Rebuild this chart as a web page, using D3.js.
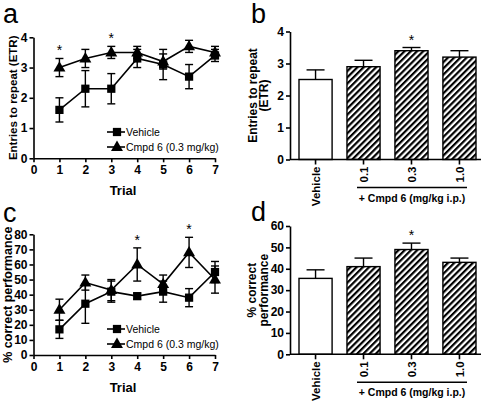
<!DOCTYPE html>
<html><head><meta charset="utf-8">
<script src="https://cdn.jsdelivr.net/npm/d3@7"></script>
<style>
body{margin:0;background:#fff;}
svg{display:block;font-family:"Liberation Sans",Arial,sans-serif;}
</style></head>
<body>
<svg id="c" width="486" height="404"></svg>
<script>
// ---- data ----
const trials = [1,2,3,4,5,6,7];
const trialTicks = [0,1,2,3,4,5,6,7];
const etrTicks = [0,1,2,3,4];
const pctTicks = [0,10,20,30,40,50,60,70,80];
const pctBarTicks = [0,10,20,30,40,50,60];
const etrVehicle = [1.6, 2.3, 2.3, 3.3, 3.1, 2.7, 3.4];
const etrVehicleErr = [0.4, 0.6, 0.5, 0.3, 0.5, 0.4, 0.2];
const etrCmpd = [3.0, 3.3, 3.5, 3.5, 3.2, 3.7, 3.5];
const etrCmpdErr = [0.3, 0.3, 0.2, 0.2, 0.25, 0.2, 0.2];
const etrSigTrials = [1, 3];
const pctVehicle = [17, 34, 42, 39, 42, 38, 55];
const pctVehicleErr = [6, 13, 7, 2, 7, 6, 7];
const pctCmpd = [30, 48, 43, 60, 47, 68, 50];
const pctCmpdErr = [7, 5, 7, 11, 6, 10, 9];
const pctSigTrials = [4, 6];
const doseLabels = ["Vehicle", "0.1", "0.3", "1.0"];
const etrBar = [2.5, 2.9, 3.4, 3.2];
const etrBarErr = [0.3, 0.2, 0.1, 0.2];
const pctBar = [35.5, 41, 49, 43];
const pctBarErr = [4, 4, 3, 2];
const barSig = ["0.3"];
const seriesNames = ["Vehicle", "Cmpd 6 (0.3 mg/kg)"];

const svg = d3.select("#c");
const defs = svg.append("defs");
const pat = defs.append("pattern").attr("id","hatch").attr("patternUnits","userSpaceOnUse")
  .attr("width",4.4).attr("height",10).attr("patternTransform","rotate(45)");
pat.append("rect").attr("width",4.4).attr("height",10).attr("fill","#fff");
pat.append("line").attr("x1",1.1).attr("x2",1.1).attr("y1",0).attr("y2",10).attr("stroke","#000").attr("stroke-width",2.2);

const FONT = "Liberation Sans, Arial, sans-serif";

function panelLetter(t, x, y){
  svg.append("text").attr("x",x).attr("y",y).attr("font-size",27).attr("font-family",FONT).text(t);
}

function styleAxis(g){
  g.selectAll("path,line").attr("stroke","#000").attr("stroke-width",1.6);
  g.selectAll("text").attr("font-size",12).attr("font-weight","bold").attr("font-family",FONT).attr("fill","#000");
}

function linePanel(o){
  const x = d3.scaleLinear().domain([0,7]).range([33.5,215]);
  const y = d3.scaleLinear().domain(o.domain).range(o.yRange);
  const gx = svg.append("g").attr("transform",`translate(0,${o.yRange[0]})`)
    .call(d3.axisBottom(x).tickValues(trialTicks).tickFormat(d3.format("d")).tickSize(4).tickSizeOuter(0).tickPadding(3));
  styleAxis(gx);
  const gy = svg.append("g").attr("transform",`translate(33.5,0)`)
    .call(d3.axisLeft(y).tickValues(o.yTicks).tickFormat(d3.format("d")).tickSize(4).tickSizeOuter(0).tickPadding(2));
  styleAxis(gy);
  // labels
  svg.append("text").attr("x",123).attr("y",o.yRange[0]+37).attr("text-anchor","middle")
    .attr("font-size",13).attr("font-weight","bold").attr("font-family",FONT).text("Trial");
  svg.append("text").attr("transform",`translate(${o.ylabX},${(o.yRange[0]+o.yRange[1])/2}) rotate(-90)`)
    .attr("text-anchor","middle").attr("font-size",o.ylabSize).attr("font-weight","bold").attr("font-family",FONT).text(o.ylab);

  const series = [
    {v:o.cmpd, e:o.cmpdErr, shape:d3.symbolTriangle, size:62},
    {v:o.veh, e:o.vehErr, shape:d3.symbolSquare, size:68}
  ];
  const line = d3.line().x((d,i)=>x(trials[i])).y(d=>y(d));
  series.forEach(s=>{
    svg.append("path").attr("d",line(s.v)).attr("fill","none").attr("stroke","#000").attr("stroke-width",1.6);
  });
  series.forEach(s=>{
    s.v.forEach((v,i)=>{
      const cx = x(trials[i]);
      const g = svg.append("g").attr("stroke","#000").attr("stroke-width",1.4);
      g.append("line").attr("x1",cx).attr("x2",cx).attr("y1",y(v-s.e[i])).attr("y2",y(v+s.e[i]));
      g.append("line").attr("x1",cx-4).attr("x2",cx+4).attr("y1",y(v-s.e[i])).attr("y2",y(v-s.e[i]));
      g.append("line").attr("x1",cx-4).attr("x2",cx+4).attr("y1",y(v+s.e[i])).attr("y2",y(v+s.e[i]));
    });
  });
  series.forEach(s=>{
    s.v.forEach((v,i)=>{
      const dy = s.shape===d3.symbolTriangle ? 0.5 : 0;
      svg.append("path").attr("d",d3.symbol().type(s.shape).size(s.size)())
        .attr("transform",`translate(${x(trials[i])},${y(v)+dy})`).attr("fill","#000");
    });
  });
  o.sig.forEach(t=>{
    const i = trials.indexOf(t);
    svg.append("text").attr("x",x(t)).attr("y",y(o.cmpd[i]+o.cmpdErr[i])-3).attr("text-anchor","middle")
      .attr("font-size",14).attr("font-family",FONT).text("*");
  });
  // legend
  const lx = 107, ly = o.legendY;
  [ {shape:d3.symbolSquare,size:68,name:seriesNames[0]}, {shape:d3.symbolTriangle,size:62,name:seriesNames[1]} ].forEach((l,k)=>{
    const yy = ly + k*15;
    svg.append("line").attr("x1",lx).attr("x2",lx+18).attr("y1",yy).attr("y2",yy).attr("stroke","#000").attr("stroke-width",1.6);
    svg.append("path").attr("d",d3.symbol().type(l.shape).size(l.size)()).attr("transform",`translate(${lx+10},${yy+(k?0.5:0)})`);
    svg.append("text").attr("x",lx+19).attr("y",yy+4).attr("font-size",10.5).attr("font-family",FONT).text(l.name);
  });
}

function barPanel(o){
  const x = d3.scaleBand().domain(doseLabels).range([299,476]).paddingInner(0.31).paddingOuter(0);
  const y = d3.scaleLinear().domain(o.domain).range(o.yRange);
  const gy = svg.append("g").attr("transform",`translate(290,0)`)
    .call(d3.axisLeft(y).tickValues(o.yTicks).tickFormat(d3.format("d")).tickSize(4).tickSizeOuter(0).tickPadding(2));
  styleAxis(gy);
  // bars
  doseLabels.forEach((d,i)=>{
    const v = o.vals[i], e = o.errs[i];
    const cx = x(d)+x.bandwidth()/2;
    svg.append("line").attr("x1",cx).attr("x2",cx).attr("y1",y(v)).attr("y2",y(v+e)).attr("stroke","#000").attr("stroke-width",1.4);
    svg.append("line").attr("x1",cx-9).attr("x2",cx+9).attr("y1",y(v+e)).attr("y2",y(v+e)).attr("stroke","#000").attr("stroke-width",1.4);
    svg.append("rect").attr("x",x(d)).attr("width",x.bandwidth()).attr("y",y(v)).attr("height",y(o.domain[0])-y(v))
      .attr("fill", i===0 ? "#fff" : "url(#hatch)").attr("stroke","#000").attr("stroke-width",1.4);
    if (barSig.includes(d)) {
      svg.append("text").attr("x",cx).attr("y",y(v+e)-3).attr("text-anchor","middle")
        .attr("font-size",14).attr("font-family",FONT).text("*");
    }
  });
  // x axis
  const gx = svg.append("g").attr("transform",`translate(0,${o.yRange[0]})`)
    .call(d3.axisBottom(x).tickSize(5).tickSizeOuter(0).tickPadding(3));
  gx.select(".domain").attr("d",`M290,0H481`);
  styleAxis(gx);
  gx.selectAll(".tick text").attr("transform","rotate(-90)").attr("text-anchor","end")
    .attr("x",-7).attr("y",0).attr("dy","0.36em").attr("font-size",11.5);
  // bracket
  const by = o.yRange[0] + 28;
  svg.append("line").attr("x1",357).attr("x2",467).attr("y1",by).attr("y2",by).attr("stroke","#000").attr("stroke-width",1.6);
  svg.append("text").attr("x",412).attr("y",by+14).attr("text-anchor","middle").attr("font-size",10.5).attr("font-weight","bold")
    .attr("font-family",FONT).text("+ Cmpd 6 (mg/kg i.p.)");
  // y label two lines
  const cy = (o.yRange[0]+o.yRange[1])/2;
  o.ylab.forEach((t,k)=>{
    svg.append("text").attr("transform",`translate(${o.ylabX[k]},${cy}) rotate(-90)`).attr("text-anchor","middle")
      .attr("font-size",12).attr("font-weight","bold").attr("font-family",FONT).text(t);
  });
}

panelLetter("a",3,23);
panelLetter("b",251,23);
panelLetter("c",3,222);
panelLetter("d",251,221);

linePanel({domain:[0,4], yRange:[158.3,37.3], yTicks:etrTicks, veh:etrVehicle, vehErr:etrVehicleErr,
  cmpd:etrCmpd, cmpdErr:etrCmpdErr, sig:etrSigTrials, ylab:"Entries to repeat (ETR)", ylabSize:11.5, ylabX:17, legendY:132});
linePanel({domain:[0,80], yRange:[355,234.3], yTicks:pctTicks, veh:pctVehicle, vehErr:pctVehicleErr,
  cmpd:pctCmpd, cmpdErr:pctCmpdErr, sig:pctSigTrials, ylab:"% correct performance", ylabSize:12.5, ylabX:12, legendY:329});
barPanel({domain:[0,4], yRange:[159.5,31.5], yTicks:etrTicks, vals:etrBar, errs:etrBarErr,
  ylab:["Entries to repeat","(ETR)"], ylabX:[257,268]});
barPanel({domain:[0,60], yRange:[354.3,226], yTicks:pctBarTicks, vals:pctBar, errs:pctBarErr,
  ylab:["% correct","performance"], ylabX:[256,268]});
</script>
</body></html>
